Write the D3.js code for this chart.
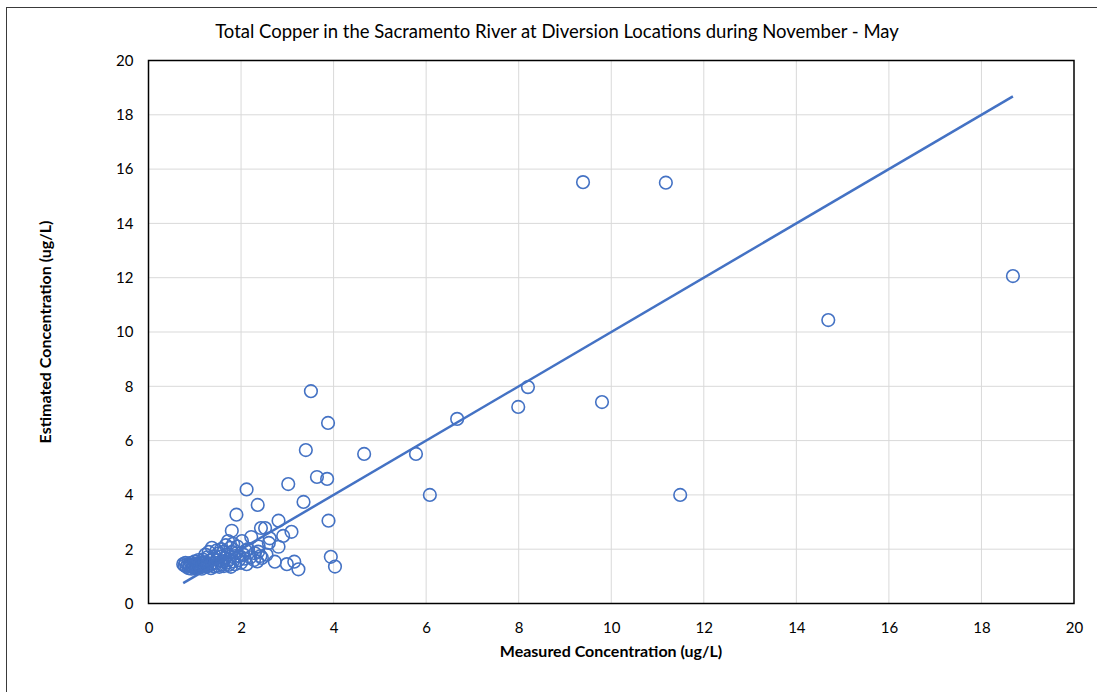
<!DOCTYPE html>
<html>
<head>
<meta charset="utf-8">
<script src="https://cdn.jsdelivr.net/npm/d3@7/dist/d3.min.js"></script>
<style>
  html, body { margin: 0; padding: 0; background: #fff; }
  svg { display: block; }
  text { font-family: Lato, Carlito, "Open Sans", sans-serif; fill: #000; }
</style>
</head>
<body>
<svg id="chart" width="1097" height="692"></svg>
<script>
// Measured vs. estimated total copper (ug/L)
const measured = [
  0.75, 0.78, 0.80, 0.82, 0.85, 0.87, 0.88, 0.90, 0.92, 0.93, 0.95, 0.97, 0.98, 1.00, 1.02,
  1.03, 1.05, 1.07, 1.08, 1.10, 1.12, 1.13, 1.15, 1.17, 1.18, 1.20, 1.22, 1.23, 1.25, 1.27,
  1.28, 1.30, 1.32, 1.33, 1.35, 1.37, 1.38, 1.40, 1.42, 1.43, 1.45, 1.47, 1.48, 1.50, 1.52,
  1.53, 1.55, 1.57, 1.58, 1.60, 1.62, 1.63, 1.65, 1.67, 1.68, 1.70, 1.72, 1.73, 1.75, 1.77,
  1.78, 1.80, 1.82, 1.83, 1.85, 1.87, 1.90, 1.92, 1.95, 1.97, 2.00, 2.02, 2.05, 2.08, 2.10,
  2.12, 2.15, 2.20, 2.22, 2.28, 2.30, 2.35, 2.37, 2.38, 2.42, 2.45, 2.43, 2.52, 2.55, 2.60,
  2.62, 2.73, 2.81, 2.81, 2.91, 2.99, 3.09, 3.15, 3.24, 1.80, 1.90, 2.12, 2.36, 3.02, 3.35,
  3.40, 3.51, 3.64, 3.86, 3.88, 3.89, 3.94, 4.03, 4.66, 5.78, 6.08, 6.67, 7.99, 8.20, 9.39,
  9.80, 11.18, 11.49, 14.69, 18.68
];
const estimated = [
  1.45, 1.40, 1.50, 1.35, 1.45, 1.30, 1.42, 1.38, 1.50, 1.28, 1.35, 1.45, 1.32, 1.55, 1.40,
  1.30, 1.48, 1.36, 1.60, 1.42, 1.33, 1.50, 1.28, 1.45, 1.62, 1.38, 1.52, 1.80, 1.35, 1.70,
  1.45, 1.90, 1.40, 1.58, 1.30, 2.05, 1.48, 1.65, 1.36, 1.75, 1.50, 1.95, 1.40, 1.60, 1.85,
  1.35, 1.72, 2.00, 1.45, 1.55, 1.90, 1.38, 1.68, 2.15, 1.50, 1.80, 2.30, 1.42, 1.62, 2.05,
  1.35, 1.90, 1.55, 2.20, 1.70, 1.45, 1.85, 2.10, 1.60, 1.75, 1.50, 2.30, 1.80, 1.65, 1.95,
  1.45, 2.00, 1.70, 2.45, 1.60, 1.85, 1.55, 1.91, 2.10, 1.75, 1.68, 2.78, 2.78, 1.80, 2.23,
  2.40, 1.54, 3.05, 2.09, 2.49, 1.45, 2.64, 1.54, 1.26, 2.68, 3.27, 4.20, 3.63, 4.40, 3.74,
  5.65, 7.82, 4.66, 4.59, 6.65, 3.05, 1.72, 1.36, 5.51, 5.51, 4.00, 6.80, 7.24, 7.97, 15.52,
  7.42, 15.50, 4.00, 10.44, 12.06
];

// Linear trendline coefficients (y = slope * x + intercept)
const trendSlope = 1.0;
const trendIntercept = 0.0;

const xTicks = [0, 2, 4, 6, 8, 10, 12, 14, 16, 18, 20];
const yTicks = [0, 2, 4, 6, 8, 10, 12, 14, 16, 18, 20];

const titleText = "Total Copper in the Sacramento River at Diversion Locations during November - May";
const xTitle = "Measured Concentration (ug/L)";
const yTitle = "Estimated Concentration (ug/L)";

const svg = d3.select("#chart");
const W = 1097, H = 692;
const plot = { left: 148.5, top: 60.5, right: 1074, bottom: 603.5 };
const blue = "#4472C4";
const font = "Lato, Carlito, 'Open Sans', sans-serif";

// outer chart frame
svg.append("rect")
  .attr("x", 6.5).attr("y", 7.5)
  .attr("width", W + 10).attr("height", H + 10)
  .attr("fill", "#fff").attr("stroke", "#3a3a3a").attr("stroke-width", 1);

const x = d3.scaleLinear().domain([0, 20]).range([plot.left, plot.right]);
const y = d3.scaleLinear().domain([0, 20]).range([plot.bottom, plot.top]);

// gridlines
const grid = svg.append("g");
grid.selectAll("line.v").data(xTicks.slice(1, -1)).join("line")
  .attr("x1", d => x(d)).attr("x2", d => x(d))
  .attr("y1", plot.top).attr("y2", plot.bottom)
  .attr("stroke", "#d9d9d9").attr("stroke-width", 1);
grid.selectAll("line.h").data(yTicks.slice(1, -1)).join("line")
  .attr("x1", plot.left).attr("x2", plot.right)
  .attr("y1", d => y(d)).attr("y2", d => y(d))
  .attr("stroke", "#d9d9d9").attr("stroke-width", 1);

// plot area border
svg.append("rect")
  .attr("x", plot.left).attr("y", plot.top)
  .attr("width", plot.right - plot.left).attr("height", plot.bottom - plot.top)
  .attr("fill", "none").attr("stroke", "#000").attr("stroke-width", 1.5);

// axes (labels only; lines come from the border)
const xAxis = svg.append("g")
  .attr("transform", `translate(0,${plot.bottom})`)
  .call(d3.axisBottom(x).tickValues(xTicks).tickSize(0).tickPadding(19));
const yAxis = svg.append("g")
  .attr("transform", `translate(${plot.left},0)`)
  .call(d3.axisLeft(y).tickValues(yTicks).tickSize(0).tickPadding(15));
[xAxis, yAxis].forEach(g => {
  g.select(".domain").remove();
  g.selectAll("text")
    .style("font-family", font)
    .style("font-size", "15px").attr("fill", "#000");
});

// data points
const pts = measured.map((m, i) => ({ m, e: estimated[i] }));
svg.append("g").selectAll("circle").data(pts).join("circle")
  .attr("cx", d => x(d.m)).attr("cy", d => y(d.e)).attr("r", 6.3)
  .attr("fill", "none").attr("stroke", blue).attr("stroke-width", 1.6);

// trendline across the measured range
const [xmin, xmax] = d3.extent(measured);
svg.append("line")
  .attr("x1", x(xmin)).attr("y1", y(trendSlope * xmin + trendIntercept))
  .attr("x2", x(xmax)).attr("y2", y(trendSlope * xmax + trendIntercept))
  .attr("stroke", blue).attr("stroke-width", 2.5);

// titles
svg.append("text")
  .attr("x", 557).attr("y", 37.5).attr("text-anchor", "middle")
  .style("font-size", "18.5px").text(titleText);
svg.append("text")
  .attr("x", 611).attr("y", 657).attr("text-anchor", "middle")
  .style("font-size", "16px").style("font-weight", "bold").text(xTitle);
svg.append("text")
  .attr("transform", `translate(51,${332}) rotate(-90)`)
  .attr("text-anchor", "middle")
  .style("font-size", "16px").style("font-weight", "bold").text(yTitle);
</script>
</body>
</html>
